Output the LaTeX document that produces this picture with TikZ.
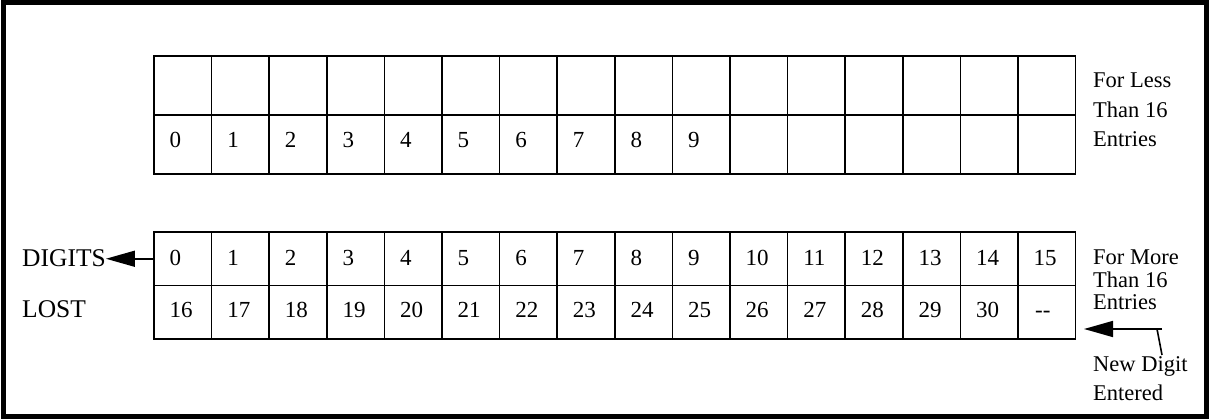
\documentclass[tikz,border=0pt]{standalone}
\usepackage{fontspec}
\setmainfont{Liberation Serif}
\usetikzlibrary{arrows.meta}
\begin{document}
\begin{tikzpicture}[x=1pt,y=-1pt,
  cell/.style={draw, line width=1.6pt, minimum width=57.6pt, anchor=north west, inner sep=0pt, outer sep=0pt},
  num/.style={anchor=base west, inner sep=0pt, font=\fontsize{23}{28}\selectfont},
  lbl/.style={anchor=base west, inner sep=0pt, font=\fontsize{25.5}{30}\selectfont},
  side/.style={anchor=base west, inner sep=0pt, font=\fontsize{22.5}{28}\selectfont},
  arr/.style={line width=1.6pt, -{Triangle[length=29pt,width=16pt]}},
  thin/.style={line width=1.6pt}]
\useasboundingbox (0,0) rectangle (1209,419);
\draw[line width=5pt] (3,2.5) rectangle (1206.5,416.5);
% cells
\foreach \i in {0,...,15}{
  \node[cell, minimum height=59pt] (ta\i) at ({154+\i*57.6},56) {};
  \node[cell, minimum height=59pt] (tb\i) at ({154+\i*57.6},115) {};
  \node[cell, minimum height=53.5pt] (ba\i) at ({154+\i*57.6},232) {};
  \node[cell, minimum height=53.5pt] (bb\i) at ({154+\i*57.6},285.5) {};
}
% numbers
\foreach \i in {0,...,9}{
  \node[num] (tn\i) at ({154+\i*57.6+15.5},148) {\i};
}
\foreach \i in {0,...,15}{
  \node[num] (bn\i) at ({154+\i*57.6+15.5},266) {\i};
}
\foreach \i in {16,...,30}{
  \node[num] (bm\i) at ({154+(\i-16)*57.6+15.5},318) {\i};
}
\node[num] (dash) at ({154+15*57.6+17},318) {-{}-};
% side labels
\node[side] (l1) at (1093,88) {For Less};
\node[side] (l2) at (1093,117.5) {Than 16};
\node[side] (l3) at (1093,147) {Entries};
\node[side] (m1) at (1093,265) {For More};
\node[side] (m2) at (1093,287.5) {Than 16};
\node[side] (m3) at (1093,310) {Entries};
\node[side] (n1) at (1093,371.5) {New Digit};
\node[side] (n2) at (1093,400) {Entered};
\node[lbl] (digits) at (22,267) {DIGITS};
\node[lbl] (lost) at (22,317) {LOST};
% arrows
\draw[arr] (ba0.west) -- (ba0.west -| digits.east);
\coordinate (tail) at (1162,329);
\coordinate (tip) at (1084,329);
\coordinate (kink) at (1157,329);
\coordinate (lead) at (1162,355);
\draw[arr] (tail) -- (tip);
\draw[thin] (kink) -- (lead);
\end{tikzpicture}
\end{document}
